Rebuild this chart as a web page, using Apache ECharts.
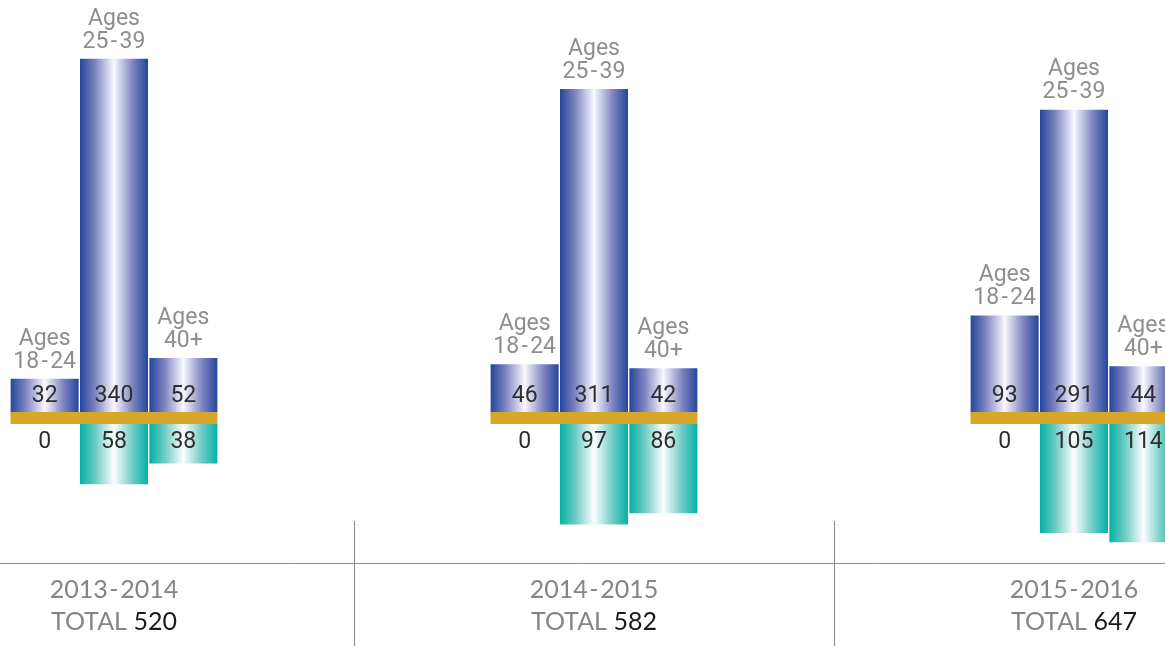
<!DOCTYPE html>
<html lang="en">

<head>
    <meta charset="utf-8">
    <title>index</title>
    <style>
        html, body { margin: 0; padding: 0; background: #fff; }
    </style>
</head>

<body>
    <div id="main" style="width: 1165px;height:646px;"></div>
    <script src="https://cdn.jsdelivr.net/npm/echarts@6/dist/echarts.min.js"></script>

    <script>
        // data
        var years = ['2013\u200a-\u200a2014', '2014\u200a-\u200a2015', '2015\u200a-\u200a2016'];
        var ageNames = ['Ages\n18\u200a-\u200a24', 'Ages\n25\u200a-\u200a39', 'Ages\n40+'];
        // above the gold line
        var upper18 = [32, 46, 93];
        var upper25 = [340, 311, 291];
        var upper40 = [52, 42, 44];
        // below the gold line
        var lower18 = [0, 0, 0];
        var lower25 = [58, 97, 105];
        var lower40 = [38, 86, 114];

        var upper = [upper18, upper25, upper40];
        var lower = [lower18, lower25, lower40];

        // total per year
        var totals = years.map(function (y, i) {
            var s = 0;
            for (var k = 0; k < 3; k++) s += upper[k][i] + lower[k][i];
            return s;
        });

        var narrow = "Roboto, 'Liberation Sans Narrow', sans-serif";
        var thin = "Lato, 'Open Sans', sans-serif";
        var barW = 68;

        function grad(edge, mid, peak) {
            return new echarts.graphic.LinearGradient(0, 0, 1, 0, [
                { offset: 0, color: edge },
                { offset: 0.22, color: mid },
                { offset: 0.5, color: peak },
                { offset: 0.78, color: mid },
                { offset: 1, color: edge }
            ]);
        }
        var blueFill = grad('#23469c', '#7c83c0', '#f8f8fe');
        var tealFill = grad('#00b2a6', '#6ccac3', '#fbfefe');

        var myChart = echarts.init(document.getElementById('main'));

        var series = [];
        // blue bars (top grid)
        for (var k = 0; k < 3; k++) {
            series.push({
                name: 'up' + k,
                type: 'bar',
                xAxisIndex: 0,
                yAxisIndex: 0,
                data: upper[k],
                barWidth: barW,
                barGap: '2%',
                itemStyle: { color: blueFill },
                label: {
                    show: true,
                    position: 'insideBottom',
                    distance: 4,
                    color: '#2e2e2e',
                    fontSize: 23,
                    fontFamily: narrow
                },
                // "Ages" text above each bar
                markPoint: {
                    symbol: 'rect',
                    symbolSize: 1,
                    silent: true,
                    itemStyle: { color: 'transparent' },
                    label: {
                        show: true,
                        position: 'top',
                        distance: 5,
                        formatter: ageNames[k],
                        color: '#8e8e8e',
                        fontSize: 23,
                        lineHeight: 23,
                        fontFamily: narrow
                    },
                    data: years.map(function (y, i) {
                        return { coord: [y, upper[k][i]] };
                    })
                }
            });
        }
        // teal bars (bottom grid, axis reversed)
        for (var k = 0; k < 3; k++) {
            series.push({
                name: 'down' + k,
                type: 'bar',
                xAxisIndex: 1,
                yAxisIndex: 1,
                data: lower[k],
                barWidth: barW,
                barGap: '2%',
                itemStyle: { color: tealFill },
                label: {
                    show: true,
                    position: 'insideTop',
                    distance: 7,
                    color: '#2e2e2e',
                    fontSize: 23,
                    fontFamily: narrow
                }
            });
        }
        // gold band under each group
        series.push({
            type: 'custom',
            xAxisIndex: 0,
            yAxisIndex: 0,
            clip: false,
            silent: true,
            data: years.map(function (y, i) { return [i]; }),
            encode: { x: 0 },
            renderItem: function (params, api) {
                var p = api.coord([api.value(0), 0]);
                var w = barW * 3 + 3;
                return {
                    type: 'rect',
                    shape: { x: p[0] - w / 2, y: p[1], width: w, height: 12 },
                    style: { fill: '#d8a72a' }
                };
            }
        });

        var option = {
            backgroundColor: '#fff',
            animation: false,
            grid: [
                { left: -126, width: 1440, top: 12, height: 400, outerBoundsMode: 'none', containLabel: false },
                { left: -126, width: 1440, top: 424, height: 139, outerBoundsMode: 'none', containLabel: false }
            ],
            xAxis: [
                {
                    type: 'category', gridIndex: 0, data: years,
                    axisLine: { show: false }, axisTick: { show: false }, axisLabel: { show: false }
                },
                {
                    type: 'category', gridIndex: 1, data: years, position: 'bottom',
                    axisLine: { show: true, onZero: false, lineStyle: { color: '#8a8a8a', width: 1 } },
                    axisTick: { show: true, inside: true, length: 42, lineStyle: { color: '#8a8a8a' } },
                    axisLabel: {
                        show: true,
                        margin: 11,
                        formatter: function (v, i) {
                            return '{y|' + v + '}\n{t|TOTAL}  {n|' + totals[i] + '}';
                        },
                        rich: {
                            y: { fontSize: 25, lineHeight: 32, color: '#858585', fontFamily: thin },
                            t: { fontSize: 25, lineHeight: 32, color: '#858585', fontFamily: thin },
                            n: { fontSize: 25, lineHeight: 32, color: '#1a1a1a', fontFamily: thin }
                        }
                    }
                },
                {
                    // lower half of the divider lines
                    type: 'category', gridIndex: 1, data: years, position: 'bottom',
                    axisLine: { show: false, onZero: false },
                    axisTick: { show: true, length: 90, lineStyle: { color: '#8a8a8a' } },
                    axisLabel: { show: false }
                }
            ],
            yAxis: [
                { type: 'value', gridIndex: 0, min: 0, max: 385, show: false },
                { type: 'value', gridIndex: 1, min: 0, max: 134, inverse: true, show: false }
            ],
            series: series
        };

        myChart.setOption(option);
    </script>
</body>

</html>
